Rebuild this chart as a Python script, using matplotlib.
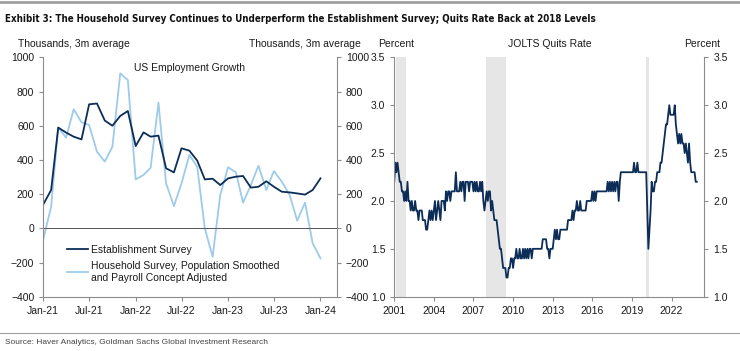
"""Exhibit 3: US employment growth and JOLTS quits rate."""
import numpy as np
import pandas as pd
import matplotlib
matplotlib.use('Agg')
import matplotlib.pyplot as plt
import matplotlib.dates as mdates
from matplotlib import font_manager
from matplotlib.lines import Line2D

plt.rcParams['font.family'] = ['Liberation Sans', 'DejaVu Sans']

# left panel: monthly, Jan-21 .. Jan-24, thousands (3m average)
emp_months = pd.date_range('2021-01-01', '2024-01-01', freq='MS')
establishment = [140, 224, 589, 560, 536, 520, 725, 730, 630, 600, 657, 686,
                 481, 561, 536, 542, 351, 327, 468, 454, 396, 286, 290, 253,
                 292, 302, 306, 238, 243, 275, 243, 214, 210, 204, 197, 224,
                 292]
household = [-63, 126, 590, 530, 696, 620, 604, 448, 390, 477, 906, 867,
             286, 312, 354, 735, 263, 130, 263, 429, 360, 0, -166, 195,
             357, 327, 150, 253, 366, 224, 335, 273, 195, 45, 150, -88,
             -176]

# right panel: JOLTS quits rate, monthly 2001..2023, percent
quits_by_year = {
    2001: [2.2, 2.4, 2.3, 2.4, 2.3, 2.2, 2.2, 2.1, 2.1, 2.0, 2.1, 2.0],
    2002: [2.2, 2.0, 2.0, 1.9, 2.0, 1.9, 1.9, 2.0, 1.9, 1.9, 1.8, 1.9],
    2003: [1.9, 1.9, 1.8, 1.8, 1.8, 1.7, 1.7, 1.8, 1.9, 1.8, 1.9, 1.8],
    2004: [1.9, 2.0, 1.8, 1.9, 2.0, 1.9, 1.8, 2.0, 2.0, 2.0, 1.9, 2.1],
    2005: [2.0, 2.1, 2.1, 2.0, 2.1, 2.1, 2.1, 2.1, 2.3, 2.1, 2.1, 2.1],
    2006: [2.2, 2.1, 2.2, 2.2, 2.0, 2.2, 2.2, 2.2, 2.1, 2.2, 2.2, 2.2],
    2007: [2.1, 2.2, 2.1, 2.2, 2.1, 2.1, 2.2, 2.1, 2.2, 2.0, 1.9, 2.0],
    2008: [2.1, 2.0, 2.1, 2.1, 1.9, 2.0, 1.9, 1.8, 1.8, 1.8, 1.7, 1.6],
    2009: [1.5, 1.5, 1.4, 1.3, 1.3, 1.3, 1.2, 1.2, 1.3, 1.3, 1.4, 1.4],
    2010: [1.3, 1.4, 1.4, 1.5, 1.4, 1.4, 1.5, 1.4, 1.4, 1.5, 1.4, 1.5],
    2011: [1.4, 1.5, 1.4, 1.5, 1.5, 1.4, 1.5, 1.5, 1.5, 1.5, 1.5, 1.5],
    2012: [1.5, 1.5, 1.5, 1.6, 1.6, 1.6, 1.6, 1.5, 1.5, 1.4, 1.5, 1.5],
    2013: [1.5, 1.6, 1.7, 1.6, 1.7, 1.6, 1.6, 1.7, 1.7, 1.7, 1.7, 1.7],
    2014: [1.7, 1.7, 1.8, 1.8, 1.8, 1.8, 1.9, 1.8, 1.9, 1.9, 2.0, 1.9],
    2015: [1.9, 2.0, 1.9, 1.9, 1.9, 1.9, 1.9, 2.0, 2.0, 2.0, 2.0, 2.0],
    2016: [2.1, 2.0, 2.1, 2.0, 2.1, 2.1, 2.1, 2.1, 2.1, 2.1, 2.1, 2.1],
    2017: [2.1, 2.1, 2.2, 2.1, 2.2, 2.1, 2.2, 2.1, 2.2, 2.1, 2.2, 2.2],
    2018: [2.0, 2.2, 2.3, 2.3, 2.3, 2.3, 2.3, 2.3, 2.3, 2.3, 2.3, 2.3],
    2019: [2.3, 2.3, 2.4, 2.3, 2.3, 2.4, 2.3, 2.3, 2.3, 2.3, 2.3, 2.3],
    2020: [2.3, 2.3, 1.9, 1.5, 1.7, 1.9, 2.2, 2.1, 2.1, 2.2, 2.2, 2.3],
    2021: [2.3, 2.3, 2.4, 2.4, 2.5, 2.6, 2.7, 2.8, 2.8, 2.9, 3.0, 2.9],
    2022: [2.9, 2.9, 2.9, 3.0, 2.8, 2.7, 2.6, 2.7, 2.6, 2.7, 2.6, 2.6],
    2023: [2.5, 2.6, 2.5, 2.4, 2.6, 2.4, 2.3, 2.3, 2.3, 2.3, 2.2, 2.2],
}
quits = [v for yr in sorted(quits_by_year) for v in quits_by_year[yr]]
quits_months = pd.date_range('2001-01-01', periods=len(quits), freq='MS')
recessions = [('2001-03-01', '2001-11-30'), ('2007-12-01', '2009-06-30'),
              ('2020-02-01', '2020-04-30')]

DARK = '#0c2d57'
LIGHT = '#9dcbe9'
SPINE = '#8c8c8c'
TXT = '#1a1a1a'
LW = 1.3
FS = 7.5

# a condensed face for the title if one is around
narrow = font_manager.FontProperties(family='DejaVu Sans', stretch='condensed', weight='bold')

fig = plt.figure(figsize=(7.4, 3.51), dpi=100)


def style_axes(ax):
    ax.spines['top'].set_visible(False)
    for s in ['left', 'right', 'bottom']:
        ax.spines[s].set_color(SPINE)
        ax.spines[s].set_linewidth(0.8)
    ax.tick_params(colors=SPINE, labelcolor=TXT, labelsize=FS, length=3, width=0.8)


# ---- left panel
ax1 = fig.add_axes([0.0585, 0.1547, 0.3965, 0.682])
ax1.plot(emp_months, household, color=LIGHT, lw=LW)
ax1.plot(emp_months, establishment, color=DARK, lw=LW)
ax1.axhline(0, color='#555555', lw=0.7)
ax1.set_ylim(-400, 1000)
ax1.set_yticks(np.arange(-400, 1001, 200))
ax1.set_xlim(pd.Timestamp('2021-01-01'), pd.Timestamp('2024-03-05'))
ax1.set_xticks(pd.date_range('2021-01-01', '2024-01-01', freq='6MS'))
ax1.xaxis.set_major_formatter(mdates.DateFormatter('%b-%y'))
style_axes(ax1)
ax1.tick_params(axis='y', left=True, right=True, labelright=True)
ax1.text(0.5, 0.975, 'US Employment Growth', transform=ax1.transAxes, ha='center', va='top', fontsize=FS, color=TXT)
handles = [Line2D([], [], color=DARK, lw=LW), Line2D([], [], color=LIGHT, lw=LW)]
ax1.legend(handles, ['Establishment Survey', 'Household Survey, Population Smoothed\nand Payroll Concept Adjusted'],
           loc='lower left', bbox_to_anchor=(0.05, 0.02), frameon=False, fontsize=FS,
           handlelength=2.0, handletextpad=0.3, labelspacing=0.6, labelcolor=TXT)
fig.text(18 / 740, 1 - 44 / 351, 'Thousands, 3m average', fontsize=FS, color=TXT, va='center')
fig.text(361 / 740, 1 - 44 / 351, 'Thousands, 3m average', fontsize=FS, color=TXT, va='center', ha='right')

# ---- right panel
ax2 = fig.add_axes([0.5328, 0.1547, 0.4189, 0.682])
for a, b in recessions:
    ax2.axvspan(pd.Timestamp(a), pd.Timestamp(b), color='#e6e6e6', lw=0, zorder=0)
ax2.plot(quits_months, quits, color=DARK, lw=LW)
ax2.set_ylim(1.0, 3.5)
ax2.set_yticks(np.arange(1.0, 3.51, 0.5))
ax2.yaxis.set_major_formatter(matplotlib.ticker.FormatStrFormatter('%.1f'))
ax2.set_xlim(pd.Timestamp('2001-01-01'), pd.Timestamp('2024-06-25'))
ax2.set_xticks([pd.Timestamp(f'{y}-01-01') for y in range(2001, 2023, 3)])
ax2.xaxis.set_major_formatter(mdates.DateFormatter('%Y'))
style_axes(ax2)
ax2.tick_params(axis='y', left=True, right=True, labelright=True)
fig.text(378 / 740, 1 - 44 / 351, 'Percent', fontsize=FS, color=TXT, va='center')
fig.text(720 / 740, 1 - 44 / 351, 'Percent', fontsize=FS, color=TXT, va='center', ha='right')
fig.text(550 / 740, 1 - 44 / 351, 'JOLTS Quits Rate', fontsize=FS, color=TXT, va='center', ha='center')

# ---- title, rules, source
fig.text(5 / 740, 1 - 19 / 351, 'Exhibit 3: The Household Survey Continues to Underperform the Establishment Survey; Quits Rate Back at 2018 Levels',
         fontproperties=narrow, fontsize=7.0, color='#111111', va='center')
fig.add_artist(Line2D([0, 1], [1 - 2 / 351, 1 - 2 / 351], color='#a0a0a0', lw=2.0))
fig.add_artist(Line2D([0, 1], [1 - 333 / 351, 1 - 333 / 351], color='#a0a0a0', lw=0.8))
fig.text(5 / 740, 1 - 342 / 351, 'Source: Haver Analytics, Goldman Sachs Global Investment Research',
         fontsize=6.0, color='#444444', va='center')

fig.savefig('out.png', dpi=100)
